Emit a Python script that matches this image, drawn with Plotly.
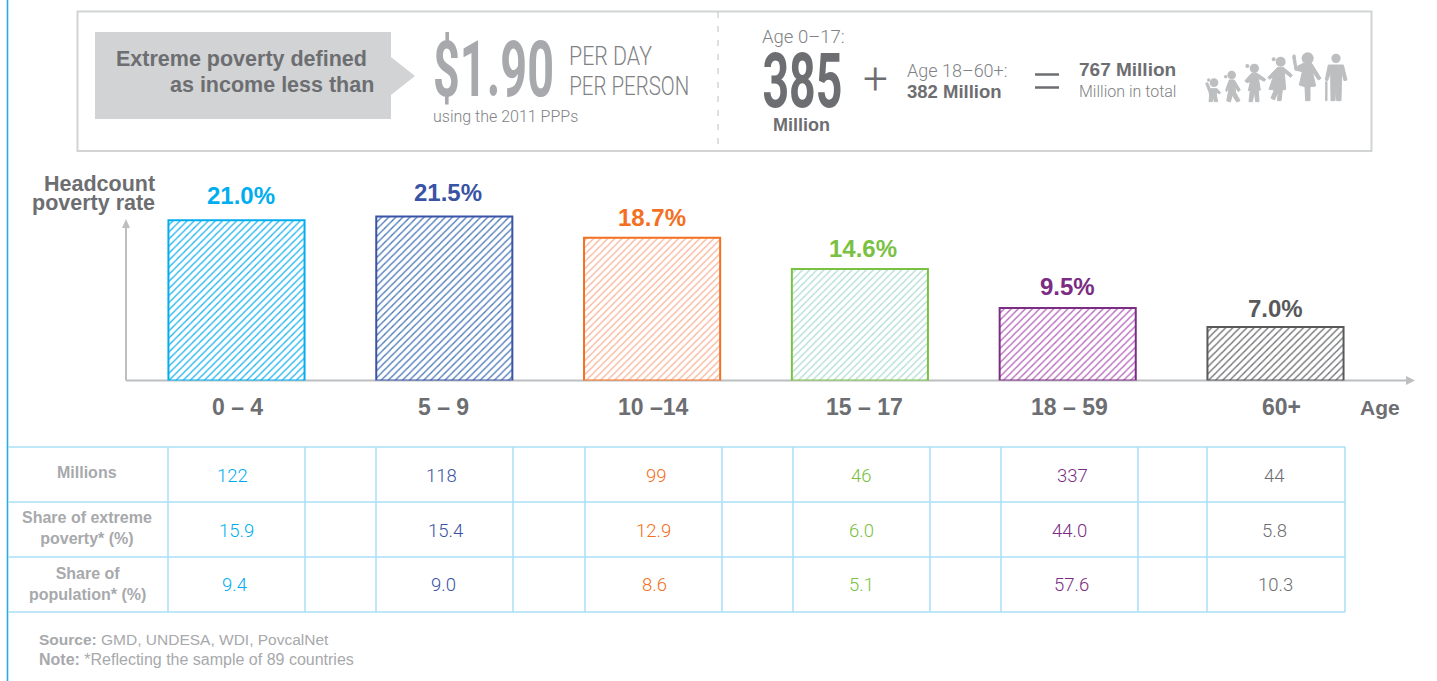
import plotly.graph_objects as go

W, H = 1437, 681

# ---------- data ----------
age_groups = ["0 – 4", "5 – 9", "10 –14", "15 – 17", "18 – 59", "60+"]
headcount_rate = [21.0, 21.5, 18.7, 14.6, 9.5, 7.0]
millions = ["122", "118", "99", "46", "337", "44"]
share_poverty = ["15.9", "15.4", "12.9", "6.0", "44.0", "5.8"]
share_population = ["9.4", "9.0", "8.6", "5.1", "57.6", "10.3"]
row_labels = ["Millions", "Share of extreme<br>poverty* (%)", "Share of<br>population* (%)"]

line_colors = ["#00AEEF", "#3A53A4", "#F36F21", "#7AC143", "#7B2C83", "#58595B"]
hatch_colors = ["#1FB4EF", "#4A78B8", "#F8B59A", "#B0DDD4", "#B565BC", "#6D6E71"]
label_yshift = [25, 24, 20.5, 20.5, 21.5, 18.5]
label_xshift = [4, 3.5, 0, 3, 0, 0]
tick_xshift = [0.5, -1, 1, 4.5, 1.5, 5.5]

SANS = "Liberation Sans"
THIN = "Roboto"
DARK = "#6D6E71"
MID = "#808285"
LIGHT = "#A7A9AC"
RULE = "#D1D3D4"
TABLE = "#A9E1F7"
PAD = {"left": -2, "right": 2, "center": 0}


def px(x):
    return x / W


def py(y):
    return 1 - y / H


def T(x, y, text, size, color=DARK, anchor="left", font=SANS, weight=None):
    f = dict(family=font, size=size, color=color)
    if weight:
        f["weight"] = weight
    return dict(x=px(x + PAD[anchor]), y=py(y), xref="paper", yref="paper", text=text, showarrow=False,
                xanchor=anchor, yanchor="middle", align=anchor, font=f)


def L(x0, y0, x1, y1, color, width=1, dash="solid", layer="below"):
    return dict(type="line", xref="paper", yref="paper", x0=px(x0), y0=py(y0), x1=px(x1), y1=py(y1),
                line=dict(color=color, width=width, dash=dash), layer=layer)


def poly(points, color, ox=0, oy=0, k=1.0, edge=0):
    p = " L ".join(f"{px(ox + a * k):.5f},{py(oy + b * k):.5f}" for a, b in points)
    return dict(type="path", xref="paper", yref="paper", path=f"M {p} Z",
                fillcolor=color, line=dict(width=edge, color=color), layer="above")


def dot(cx, cy, r, color, ox=0, oy=0, k=1.0):
    return dict(type="circle", xref="paper", yref="paper",
                x0=px(ox + (cx - r) * k), x1=px(ox + (cx + r) * k),
                y0=py(oy + (cy - r) * k), y1=py(oy + (cy + r) * k),
                fillcolor=color, line=dict(width=0), layer="above")


fig = go.Figure(go.Bar(
    x=age_groups, y=headcount_rate, width=0.655,
    marker=dict(
        color="white",
        line=dict(color=line_colors, width=2),
        pattern=dict(shape="/", fgcolor=hatch_colors, bgcolor="white", size=5, solidity=0.26, fillmode="replace"),
    ),
    hoverinfo="skip",
))

shapes = []
ann = []

# ---------- left page rule ----------
shapes.append(L(7.5, 0, 7.5, 681, "#29ABE2", 1.6))

# ---------- header box ----------
shapes.append(dict(type="rect", xref="paper", yref="paper", x0=px(77.5), x1=px(1371.5), y0=py(151), y1=py(11.5),
                   line=dict(color=RULE, width=2), fillcolor="rgba(0,0,0,0)", layer="below"))
shapes.append(L(718, 12, 718, 150, "#C8CACC", 1.2, "6px,8px"))
shapes.append(poly([(95, 32), (391, 32), (391, 57), (415, 76), (391, 95), (391, 119), (95, 119)], RULE))

ann += [
    T(367, 59, "<b>Extreme poverty defined</b>", 21.5, DARK, "right"),
    T(374, 85, "<b>as income less than</b>", 21.5, DARK, "right"),
    T(493.5, 70, "$1.90", 77, LIGHT, "center", THIN, 700),
    T(610.5, 56, "PER DAY", 26, MID, "center", THIN, 300),
    T(629, 86, "PER PERSON", 26, MID, "center", THIN, 300),
    T(433, 116, "using the 2011 PPPs", 16, MID, "left", THIN, 300),
    T(762, 37, "Age 0–17:", 18.5, MID, "left", THIN, 300),
    T(802, 81, "385", 76, DARK, "center", THIN, 700),
    T(801, 125.5, "<b>Million</b>", 18, DARK, "center"),
    T(875, 79, "+", 44, DARK, "center", THIN, 300),
    T(907, 70, "Age 18–60+:", 18, MID, "left", THIN, 300),
    T(907, 91, "<b>382 Million</b>", 18.5, DARK),
    T(1079, 69, "<b>767 Million</b>", 19, DARK),
    T(1079, 92, "Million in total", 16, MID, "left", THIN, 300),
]
shapes.append(L(1035, 74.5, 1059, 74.5, DARK, 2.5))
shapes.append(L(1035, 87.5, 1059, 87.5, DARK, 2.5))

# ---------- family icon ----------
ICON = "#BCBEC0"
ox, oy, k = 1195, 40, 1 / 3
for c in [(57, 128, 13), (41, 120, 5), (110, 105, 13), (92, 110, 5), (178, 85, 14), (157, 78, 6),
          (257, 65, 15), (236, 58, 6), (338, 55, 18), (423, 55, 14)]:
    shapes.append(dot(*c, ICON, ox, oy, k))
figures = [
    [(32, 130), (38, 128), (46, 146), (66, 146), (77, 158), (72, 162), (66, 156), (64, 165), (68, 185), (58, 185),
     (55, 170), (52, 185), (42, 185), (44, 165), (42, 156)],
    [(103, 120), (118, 120), (136, 150), (130, 155), (120, 140), (122, 158), (135, 182), (125, 186), (112, 165),
     (106, 186), (95, 182), (100, 158), (100, 140), (95, 155), (92, 150)],
    [(170, 100), (186, 100), (212, 118), (208, 124), (190, 115), (196, 150), (190, 152), (192, 185), (182, 185),
     (178, 155), (172, 185), (162, 185), (166, 150), (160, 152), (166, 125), (155, 128), (150, 122)],
    [(248, 82), (265, 82), (292, 105), (287, 112), (268, 97), (272, 148), (262, 150), (258, 182), (247, 182),
     (250, 155), (238, 180), (228, 174), (238, 150), (222, 148), (235, 110), (224, 118), (219, 112)],
    [(295, 45), (300, 45), (305, 80), (325, 70), (350, 70), (378, 115), (370, 120), (352, 95), (362, 138), (345, 140),
     (345, 182), (332, 182), (330, 140), (313, 135), (322, 95), (300, 90), (293, 50)],
    [(400, 75), (445, 75), (456, 120), (447, 122), (440, 95), (438, 182), (425, 182), (423, 130), (420, 182),
     (408, 182), (407, 95), (398, 122), (391, 120)],
    [(392, 125), (396, 125), (396, 182), (392, 182)],
]
for f in figures:
    shapes.append(poly(f, ICON, ox, oy, k, edge=1))

# ---------- axes ----------
AXIS = "#BCBEC0"
shapes.append(L(126, 380.5, 1410, 380.5, AXIS, 2))
shapes.append(L(126, 380.5, 126, 224, AXIS, 2))
shapes.append(poly([(122, 228), (130, 228), (126, 219)], AXIS))
shapes.append(poly([(1406, 376), (1406, 385), (1415, 380.5)], AXIS))

ann += [
    T(155, 184, "<b>Headcount</b>", 21.5, DARK, "right"),
    T(155, 203, "<b>poverty rate</b>", 21.5, DARK, "right"),
    T(1360, 407, "<b>Age</b>", 21, DARK),
]

# value labels above the bars, age labels under them
for g, v, c, ys, xs, ts in zip(age_groups, headcount_rate, line_colors, label_yshift, label_xshift, tick_xshift):
    ann.append(dict(x=g, y=v, xref="x", yref="y", text=f"<b>{v:.1f}%</b>", showarrow=False,
                    xanchor="center", yanchor="middle", yshift=ys, xshift=xs,
                    font=dict(family=SANS, size=24, color=c)))
    ann.append(dict(x=g, y=0, xref="x", yref="y", text=f"<b>{g}</b>", showarrow=False,
                    xanchor="center", yanchor="middle", yshift=-26.5, xshift=ts,
                    font=dict(family=SANS, size=23, color=DARK)))

# ---------- table ----------
for y in [447, 502, 557, 612]:
    shapes.append(L(8, y, 1345, y, TABLE, 1.5))
for x in [168, 305, 376, 513, 585, 722, 793, 930, 1001, 1138, 1207, 1345]:
    shapes.append(L(x, 447, x, 612, TABLE, 1.5))

row_y = [475.5, 531, 585]
col_x = [[232, 441, 656, 861, 1072, 1274], [236, 445, 653, 861, 1069, 1274], [235, 444, 654, 861, 1071, 1275]]
for values, y, xs in zip([millions, share_poverty, share_population], row_y, col_x):
    for v, x, c in zip(values, xs, line_colors):
        ann.append(T(x, y, v, 18.5, c if c != "#58595B" else DARK, "center", THIN, 300))

for label, y in zip(row_labels, [472.5, 528, 584]):
    ann.append(dict(x=px(87), y=py(y), xref="paper", yref="paper", text=f"<b>{label}</b>", showarrow=False,
                    xanchor="center", yanchor="middle", align="center",
                    font=dict(family=SANS, size=16, color=LIGHT)))

ann += [
    T(39, 639, "<b>Source:</b> GMD, UNDESA, WDI, PovcalNet", 15.5, LIGHT),
    T(39, 659, "<b>Note:</b> *Reflecting the sample of 89 countries", 16, LIGHT),
]

fig.update_layout(
    width=W, height=H, margin=dict(l=0, r=0, t=0, b=0, autoexpand=False),
    paper_bgcolor="white", plot_bgcolor="rgba(0,0,0,0)", showlegend=False,
    font=dict(family=SANS),
    shapes=shapes, annotations=ann,
    xaxis=dict(domain=[px(126), px(1415)], range=[(126 - 236.5) / 207.8, (1415 - 236.5) / 207.8],
               type="category", categoryorder="array", categoryarray=age_groups,
               showgrid=False, zeroline=False, showline=False, ticks="", showticklabels=False),
    yaxis=dict(domain=[py(380.5), py(190)], range=[0, 190.5 / 7.63], visible=False),
)

# Page margin off; condensed display type is real text squeezed to its printed width.
post = """
document.body.style.margin = '0';
var widths = {'$1.90': 121, '385': 80, 'PER DAY': 83, 'PER PERSON': 120};
document.querySelectorAll('.annotation-text').forEach(function (t) {
  var w = widths[t.textContent];
  if (w) {
    t.setAttribute('textLength', w);
    t.setAttribute('lengthAdjust', 'spacingAndGlyphs');
    var r = t.parentNode.querySelector('rect');
    if (r) {
      var ow = parseFloat(r.getAttribute('width')), ox = parseFloat(r.getAttribute('x'));
      r.setAttribute('x', ox + (ow - w) / 2);
      r.setAttribute('width', w);
    }
  }
});
"""
fig.write_html("out.html", config=dict(displayModeBar=False), post_script=post)
